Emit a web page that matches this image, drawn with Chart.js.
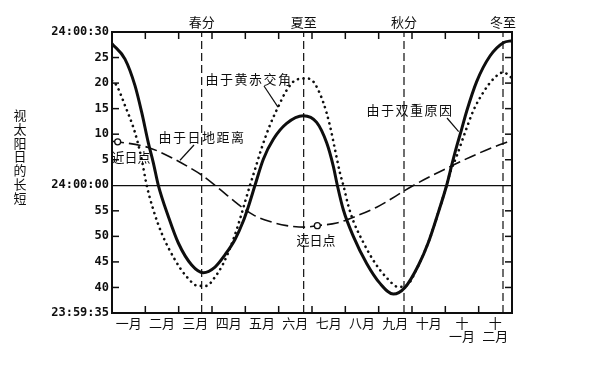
<!DOCTYPE html>
<html>
<head>
<meta charset="utf-8">
<script src="https://cdn.jsdelivr.net/npm/chart.js@4.4.0/dist/chart.umd.min.js"></script>
<style>
  html, body { margin: 0; padding: 0; background: #fff; }
  #wrap { width: 594px; height: 366px; }
</style>
</head>
<body>
<div id="wrap"><canvas id="chart" width="594" height="366"></canvas></div>
<script>
// month names along the bottom (centred in each month)
const monthLabels = ['一月', '二月', '三月', '四月', '五月', '六月', '七月', '八月', '九月', '十月', ['十', '一月'], ['十', '二月']];
// equinoxes / solstices along the top (in months from Jan 1)
const solarTerms = ['春分', '夏至', '秋分', '冬至'];
const termMonths = [2.69, 5.75, 8.76, 11.73];
// y axis: seconds off 24h
const yTickValues = [-25, -20, -15, -10, -5, 0, 5, 10, 15, 20, 25, 30];
const yTickLabels = ['23:59:35', '40', '45', '50', '55', '24:00:00', '5', '10', '15', '20', '25', '24:00:30'];

// 由于双重原因 (solid)
const bothMonths = [0, 0.39, 0.69, 0.89, 1.09, 1.24, 1.39, 1.69, 1.99, 2.39, 2.74, 3.09, 3.39, 3.69, 3.94, 4.09, 4.29, 4.54, 4.84, 5.24, 5.74, 6.14, 6.44, 6.64, 6.76, 6.94, 7.24, 7.64, 8.04, 8.44, 8.79, 9.19, 9.49, 9.79, 10.04, 10.19, 10.34, 10.49, 10.64, 10.94, 11.34, 11.74, 12];
const bothSecs = [27.7, 24.7, 19.5, 14.3, 8.3, 4.4, 0, -6.1, -11.3, -15.6, -17.1, -16.0, -13.6, -10.6, -7.0, -4.2, 0, 5.1, 9.0, 12.1, 13.6, 12.3, 8.3, 3.7, 0, -4.8, -10, -15.3, -19.2, -21.3, -20.0, -15.7, -11.2, -5.3, 0, 3.9, 7.6, 11.0, 14.5, 20.3, 25.3, 27.9, 28.3];

// 由于黄赤交角 (dotted)
const obliqMonths = [0, 0.14, 0.39, 0.69, 0.89, 1.04, 1.24, 1.49, 1.89, 2.24, 2.59, 2.84, 3.04, 3.34, 3.64, 3.84, 3.94, 4.14, 4.29, 4.49, 4.74, 4.99, 5.24, 5.54, 5.84, 6.04, 6.34, 6.54, 6.69, 6.84, 6.94, 7.09, 7.24, 7.54, 7.89, 8.24, 8.59, 8.84, 9.19, 9.49, 9.79, 10.04, 10.14, 10.34, 10.59, 10.84, 11.14, 11.44, 11.74, 12];
const obliqSecs = [20.5, 19.5, 15.6, 10.3, 5.1, 0, -4.8, -9.4, -14.6, -17.9, -19.7, -19.7, -18.4, -15.3, -10.6, -6.6, -4.4, 0, 3.1, 7.3, 11.8, 15.4, 18.6, 20.7, 20.9, 20.3, 16.2, 11.6, 7.0, 2.4, 0, -4.0, -7.0, -11.2, -15.2, -18.1, -19.9, -19.6, -15.7, -11.2, -5.3, 0, 2.4, 5.7, 10.3, 14.6, 18.2, 20.8, 22.1, 21.0];

// 由于日地距离 (dashed)
const eccMonths = [0, 0.17, 1.09, 1.79, 2.29, 2.69, 3.24, 3.74, 4.24, 4.74, 5.24, 5.79, 6.16, 6.74, 7.34, 7.94, 8.19, 8.79, 9.19, 9.69, 10.19, 10.74, 11.34, 12];
const eccSecs = [8.6, 8.5, 7.4, 5.4, 3.6, 2.0, -0.8, -3.5, -5.8, -7.1, -7.9, -8.2, -7.9, -7.4, -6.0, -4.3, -3.4, -1.0, 0.5, 2.2, 3.8, 5.5, 7.2, 8.8];

// 近日点, 远日点
const apsisMonths = [0.17, 6.16];
const apsisSecs = [8.5, -7.9];

const zip = (xs, ys) => xs.map((x, i) => ({ x: x, y: ys[i] }));
const INK = '#0e0e0e';
const CJK = "'Noto Sans CJK SC', 'Noto Sans', sans-serif";

Chart.defaults.font.family = CJK;
Chart.defaults.color = INK;

const termLines = termMonths.map(m => ({
  data: [{ x: m, y: -25 }, { x: m, y: 30 }],
  borderColor: INK,
  borderWidth: 1.2,
  borderDash: [8, 4],
  pointRadius: 0,
  tension: 0
}));

// inward tick marks, leader lines, annotations, y title
const extras = {
  id: 'extras',
  afterDatasetsDraw(chart) {
    const { ctx, chartArea: a, scales: { x, y } } = chart;
    ctx.save();
    ctx.strokeStyle = INK;
    ctx.lineWidth = 1.5;
    const seg = (x1, y1, x2, y2) => { ctx.beginPath(); ctx.moveTo(x1, y1); ctx.lineTo(x2, y2); ctx.stroke(); };
    for (let m = 1; m < 12; m++) {
      const px = x.getPixelForValue(m);
      seg(px, a.bottom, px, a.bottom - 7);
      seg(px, a.top, px, a.top + 7);
    }
    yTickValues.slice(1, -1).forEach(v => {
      if (v === 0) return;
      const py = y.getPixelForValue(v);
      seg(a.left, py, a.left + 7, py);
      seg(a.right, py, a.right - 7, py);
    });

    // leader lines
    ctx.lineWidth = 1.2;
    seg(264, 86, x.getPixelForValue(4.98), y.getPixelForValue(15.3));
    seg(194, 145, x.getPixelForValue(2.04), y.getPixelForValue(4.9));
    seg(447, 118, x.getPixelForValue(10.4), y.getPixelForValue(10.5));

    ctx.fillStyle = INK;
    ctx.textAlign = 'center';
    ctx.textBaseline = 'middle';
    ctx.font = '13px ' + CJK;
    ctx.letterSpacing = '1.5px';
    ctx.fillText('由于黄赤交角', 249, 79);
    ctx.fillText('由于日地距离', 202, 137);
    ctx.fillText('由于双重原因', 410, 110);
    ctx.letterSpacing = '0px';
    ctx.fillText('近日点', 131, 157);
    ctx.fillText('远日点', 316, 240);

    // vertical y title
    '视太阳日的长短'.split('').forEach((ch, i) => ctx.fillText(ch, 20, 115 + i * 13.8));
    ctx.restore();
  }
};

const curve = { pointRadius: 0, cubicInterpolationMode: 'monotone', borderColor: INK };

new Chart(document.getElementById('chart'), {
  type: 'line',
  data: {
    datasets: [
      {
        data: zip(apsisMonths, apsisSecs),
        showLine: false,
        pointRadius: 3,
        pointBackgroundColor: '#fff',
        pointBorderColor: INK,
        pointBorderWidth: 1.3
      },
      { ...curve, data: zip(bothMonths, bothSecs), borderWidth: 3 },
      { ...curve, data: zip(obliqMonths, obliqSecs), borderWidth: 2.6, borderDash: [0.1, 5.5], borderCapStyle: 'round' },
      { ...curve, data: zip(eccMonths, eccSecs), borderWidth: 1.6, borderDash: [12, 5] },
      ...termLines
    ]
  },
  options: {
    responsive: false,
    animation: false,
    devicePixelRatio: 1,
    layout: { padding: 0 },
    plugins: { legend: { display: false }, tooltip: { enabled: false } },
    scales: {
      x: {
        type: 'linear', position: 'bottom', min: 0, max: 12,
        afterBuildTicks: s => { s.ticks = monthLabels.map((_, i) => ({ value: i + 0.5 })); },
        afterFit: s => { s.height = 53; },
        ticks: {
          callback: (v, i) => monthLabels[i],
          autoSkip: false, maxRotation: 0, padding: 3,
          font: { size: 13, lineHeight: 1.05 }
        },
        grid: { display: false, drawTicks: false },
        border: { display: true, color: INK, width: 2 }
      },
      x2: {
        type: 'linear', position: 'top', min: 0, max: 12,
        afterBuildTicks: s => { s.ticks = termMonths.map(v => ({ value: v })); },
        afterFit: s => { s.height = 32; },
        ticks: {
          callback: (v, i) => solarTerms[i],
          autoSkip: false, maxRotation: 0, padding: 2,
          font: { size: 13 }
        },
        grid: { display: false, drawTicks: false },
        border: { display: true, color: INK, width: 2 }
      },
      y: {
        type: 'linear', position: 'left', min: -25, max: 30,
        afterBuildTicks: s => { s.ticks = yTickValues.map(v => ({ value: v })); },
        afterFit: s => { s.width = 112; },
        ticks: {
          callback: (v, i) => yTickLabels[i],
          padding: 3,
          font: { family: "'DejaVu Sans Mono', monospace", size: 12, weight: 'bold' }
        },
        grid: {
          drawTicks: false,
          color: c => (c.tick && c.tick.value === 0 ? INK : 'rgba(0,0,0,0)'),
          lineWidth: 1.2
        },
        border: { display: true, color: INK, width: 2 }
      },
      y2: {
        type: 'linear', position: 'right', min: -25, max: 30,
        afterFit: s => { s.width = 82; },
        ticks: { display: false },
        grid: { display: false, drawTicks: false },
        border: { display: true, color: INK, width: 2 }
      }
    }
  },
  plugins: [extras]
});
</script>
</body>
</html>
